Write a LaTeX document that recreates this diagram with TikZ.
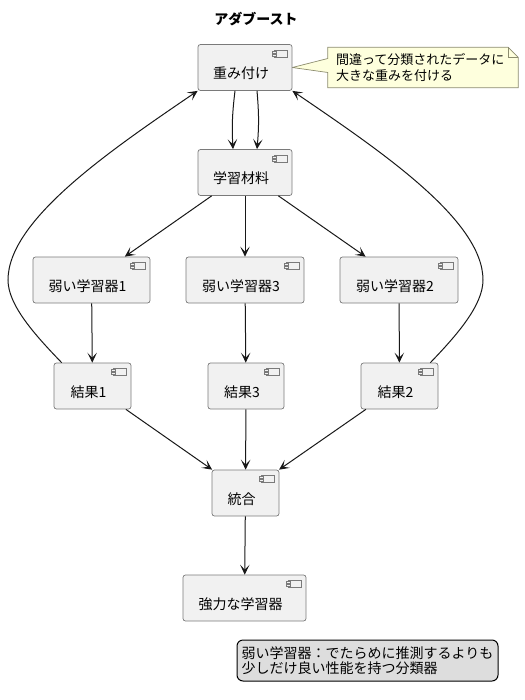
\documentclass[tikz,border=0pt]{standalone}
\usepackage{fontspec}
\setmainfont{Noto Sans CJK JP}
\usetikzlibrary{arrows.meta}
\usetikzlibrary{backgrounds}

\definecolor{compfill}{HTML}{F1F1F1}
\definecolor{compline}{HTML}{7A7A7A}
\definecolor{edgecol}{HTML}{181818}
\definecolor{notefill}{HTML}{FEFFDD}
\definecolor{noteline}{HTML}{8C8C6E}
\definecolor{legfill}{HTML}{DDDDDD}

% text sits low in the box, below the icon
\newcommand{\lowtext}[1]{\raisebox{-11pt}[0pt][0pt]{#1}\kern8pt}

\tikzset{
    comp/.style={draw=compline, line width=0.7pt, fill=compfill, rounded corners=2.5pt,
        minimum height=46pt, inner sep=0pt, font=\fontsize{14}{17}\selectfont,
        path picture={
            \filldraw[draw=compline, fill=compfill, line width=0.6pt, sharp corners]
                ([xshift=-18pt,yshift=-5.5pt]path picture bounding box.north east) rectangle ++(13pt,-7pt);
            \filldraw[draw=compline, fill=compfill, line width=0.6pt, sharp corners]
                ([xshift=-20pt,yshift=-6.5pt]path picture bounding box.north east) rectangle ++(4pt,-2pt);
            \filldraw[draw=compline, fill=compfill, line width=0.6pt, sharp corners]
                ([xshift=-20pt,yshift=-9.5pt]path picture bounding box.north east) rectangle ++(4pt,-2pt);
        }},
    arr/.style={draw=edgecol, line width=1pt, -{Stealth[length=10pt,width=9.5pt,inset=5pt]}},
    notetext/.style={inner xsep=8pt, inner ysep=0pt, minimum height=40pt, text width=174pt,
        align=left, font=\fontsize{13}{15.5}\selectfont},
    notebox/.style={draw=noteline, line width=0.7pt, fill=notefill},
    legendbox/.style={draw=black, line width=1pt, fill=legfill, rounded corners=6pt,
        minimum width=261pt, minimum height=41pt, align=left, font=\fontsize{14}{15.5}\selectfont},
}

\begin{document}
\begin{tikzpicture}[x=1pt, y=-1pt]
    \useasboundingbox (0,0) rectangle (524,700);
    \node[font=\bfseries\fontsize{14}{17}\selectfont] (title) at (256,19.5) {アダブースト};
    % components
    \node[comp, minimum width=94pt] (wt) at (245,67.5) {\lowtext{重み付け}};
    \node[comp, minimum width=94pt] (mat) at (245,172.5) {\lowtext{学習材料}};
    \node[comp, minimum width=117pt] (w1) at (91.5,280) {\lowtext{弱い学習器1}};
    \node[comp, minimum width=118pt] (w3) at (245,280) {\lowtext{弱い学習器3}};
    \node[comp, minimum width=118pt] (w2) at (399,280) {\lowtext{弱い学習器2}};
    \node[comp, minimum width=77pt] (r1) at (92.5,386) {\lowtext{結果1}};
    \node[comp, minimum width=76pt] (r3) at (246,386) {\lowtext{結果3}};
    \node[comp, minimum width=77pt] (r2) at (399.5,386) {\lowtext{結果2}};
    \node[comp, minimum width=67pt] (comb) at (245.5,493) {\lowtext{統合}};
    \node[comp, minimum width=123pt] (strong) at (244.5,598) {\lowtext{強力な学習器}};
    % note
    \node[notetext] (nt) at (423,67.5) {間違って分類されたデータに\\大きな重みを付ける};
    \begin{scope}[on background layer]
        \filldraw[notebox] (nt.north west) -- ([xshift=-10pt]nt.north east) -- ([yshift=-10pt]nt.north east)
            -- (nt.south east) -- (nt.south west) -- ([yshift=-5pt]nt.west) -- (wt.east)
            -- ([yshift=9pt]nt.west) -- cycle;
        \draw[notebox, fill=none] ([xshift=-10pt]nt.north east) |- ([yshift=-10pt]nt.north east);
    \end{scope}
    % legend
    \node[legendbox] (leg) at (367.5,660.5) {弱い学習器：でたらめに推測するよりも\\少しだけ良い性能を持つ分類器};
    % edges
    \draw[arr] ([xshift=-10pt]wt.south) to[bend right=5] ([xshift=-12pt]mat.north);
    \draw[arr] ([xshift=12pt]wt.south) to[bend left=5] ([xshift=12pt]mat.north);
    \draw[arr] (mat) -- (w1);
    \draw[arr] (mat) -- (w3);
    \draw[arr] (mat) -- (w2);
    \draw[arr] (w1) -- (r1);
    \draw[arr] (w3) -- (r3);
    \draw[arr] (w2) -- (r2);
    \draw[arr] (r1) -- (comb);
    \draw[arr] (r3) -- (comb);
    \draw[arr] (r2) -- (comb);
    \draw[arr] (comb) -- (strong);
    % feedback to weights
    \coordinate (bendL) at (8,280);
    \coordinate (bendR) at (483,280);
    \draw[arr] ([xshift=8pt]r1.north west) .. controls +(-27,-28) and +(0,25) .. (bendL)
        .. controls +(0,-60) and +(-88,60) .. (wt.south west);
    \draw[arr] ([xshift=-8pt]r2.north east) .. controls +(27,-28) and +(0,25) .. (bendR)
        .. controls +(0,-60) and +(88,60) .. (wt.south east);
\end{tikzpicture}
\end{document}
